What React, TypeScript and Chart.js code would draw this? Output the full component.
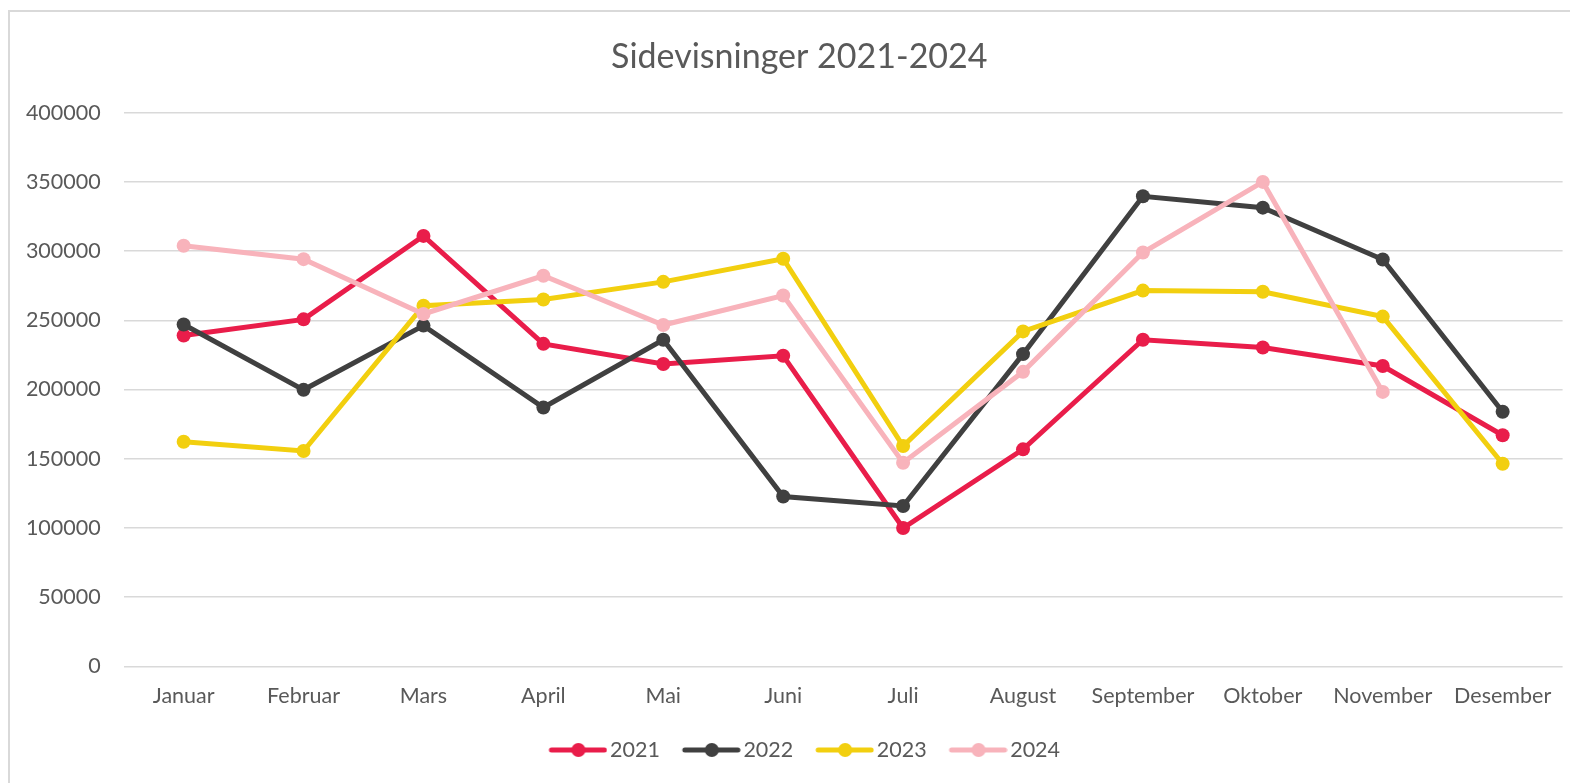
import React, { useEffect, useRef } from "react";
import { Chart, registerables } from "chart.js";

Chart.register(...registerables);

const months = ["Januar", "Februar", "Mars", "April", "Mai", "Juni", "Juli", "August", "September", "Oktober", "November", "Desember"];
const seriesNames = ["2021", "2022", "2023", "2024"];
const values2021 = [239000, 250700, 311000, 233000, 218500, 224400, 100000, 156800, 236000, 230400, 217000, 167000];
const values2022 = [247000, 199800, 246200, 187000, 236000, 122700, 115900, 225600, 339600, 331400, 294000, 184000];
const values2023 = [162300, 155600, 260600, 265000, 277800, 294500, 159200, 242000, 271500, 270600, 252700, 146400];
const values2024 = [303900, 294200, 254600, 282200, 246600, 267900, 147100, 212800, 299000, 350000, 198300, null];
const colors = ["#E91D4A", "#404040", "#F2CF0F", "#F8B3BB"];
const yTicks = { min: 0, max: 400000, step: 50000 };

const FONT = "Lato, 'Noto Sans', sans-serif";
const TEXT = "#595959";

function makeIcon(color: string) {
  const c = document.createElement("canvas");
  c.width = 76;
  c.height = 16;
  const ctx = c.getContext("2d")!;
  ctx.strokeStyle = color;
  ctx.lineWidth = 5;
  ctx.lineCap = "round";
  ctx.beginPath();
  ctx.moveTo(20, 8);
  ctx.lineTo(73, 8);
  ctx.stroke();
  ctx.fillStyle = color;
  ctx.beginPath();
  ctx.arc(47, 8, 7, 0, Math.PI * 2);
  ctx.fill();
  return c;
}

export default function App() {
  const ref = useRef<HTMLCanvasElement | null>(null);
  useEffect(() => {
    if (!ref.current) return;
    const all = [values2021, values2022, values2023, values2024];
    const icons = colors.map(makeIcon);
    const shiftBoxes = {
      id: "shiftBoxes",
      afterLayout(chart: any) {
        const l = chart.legend;
        if (l) {
          l.left += 13.5;
          l.right += 13.5;
        }
        const t = chart.titleBlock;
        if (t) {
          t.left += 13;
          t.right += 13;
        }
      },
    };
    const chart = new Chart(ref.current, {
      type: "line",
      data: {
        labels: months,
        datasets: seriesNames.map((name, i) => ({
          label: name,
          data: all[i],
          borderColor: colors[i],
          backgroundColor: colors[i],
          pointBackgroundColor: colors[i],
          pointBorderColor: colors[i],
          borderWidth: 5,
          pointRadius: 7,
          pointBorderWidth: 0,
          tension: 0,
          fill: false,
          order: 4 - i,
        })),
      },
      options: {
        responsive: false,
        animation: false,
        layout: { padding: { left: 10, right: 7.4, top: 0, bottom: 12.25 } },
        plugins: {
          title: {
            display: true,
            text: "Sidevisninger 2021-2024",
            color: TEXT,
            font: { family: FONT, size: 34, weight: "normal", lineHeight: 1.2 },
            padding: { top: 36.6, bottom: 35.3 },
          },
          legend: {
            position: "bottom",
            labels: {
              usePointStyle: true,
              pointStyleWidth: 59.7,
              padding: 13.05,
              color: TEXT,
              font: { family: FONT, size: 21.5 },
              sort: (a: any, b: any) => a.datasetIndex - b.datasetIndex,
              generateLabels: (chart: any) => {
                const items = (Chart.defaults.plugins.legend.labels as any).generateLabels(chart);
                return items.map((it: any) => ({ ...it, pointStyle: icons[it.datasetIndex] }));
              },
            },
          },
          tooltip: { enabled: false },
        },
        scales: {
          x: {
            offset: true,
            grid: { display: false, drawTicks: false },
            border: { display: false },
            ticks: {
              color: TEXT,
              font: { family: FONT, size: 21.5 },
              padding: 17,
              maxRotation: 0,
              autoSkip: false,
            },
          },
          y: {
            min: yTicks.min,
            max: yTicks.max,
            afterFit: (scale: any) => {
              scale.width = 113.7;
            },
            grid: { color: "#d9d9d9", lineWidth: 1.5, drawTicks: false },
            border: { display: false },
            ticks: {
              stepSize: yTicks.step,
              color: TEXT,
              font: { family: FONT, size: 21.5 },
              padding: 23,
              callback: (v: any) => String(v),
            },
          },
        },
      },
      plugins: [shiftBoxes],
    });
    return () => chart.destroy();
  }, []);
  return (
    <div style={{ position: "fixed", left: 0, top: 0, width: 1570, height: 783, background: "#fff", overflow: "hidden" }}>
      <div
        style={{
          position: "absolute",
          left: 8,
          top: 10,
          width: 1620,
          height: 820,
          border: "2px solid #d9d9d9",
          boxSizing: "border-box",
        }}
      />
      <canvas ref={ref} width={1570} height={783} style={{ position: "absolute", left: 0, top: 0 }} />
    </div>
  );
}
